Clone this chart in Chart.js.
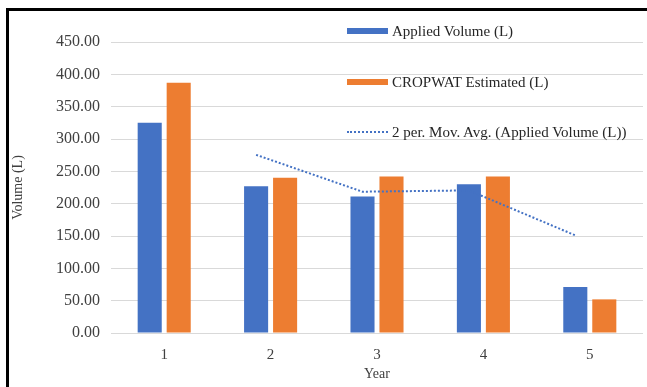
<!DOCTYPE html>
<html>
<head>
<meta charset="utf-8">
<script src="https://cdn.jsdelivr.net/npm/chart.js@4.4.1/dist/chart.umd.min.js"></script>
<style>
  html, body { margin: 0; padding: 0; background: #fff; overflow: hidden; }
  #wrap { position: relative; width: 647px; height: 387px; }
  #frame { position: absolute; left: 6px; top: 8px; width: 700px; height: 500px;
           border-left: 3px solid #000; border-top: 3px solid #000; pointer-events: none; }
  #legend { position: absolute; left: 347px; top: 0; font-family: "Liberation Serif", serif;
            font-size: 15px; color: #262626; }
  .item { position: absolute; left: 0; white-space: nowrap; display: flex; align-items: center; }
  .sw { width: 41px; height: 6px; margin-right: 4px; }
  .dot { width: 41px; height: 0; border-top: 2px dotted #4472C4; margin-right: 4px; }
</style>
</head>
<body>
<div id="wrap">
  <canvas id="c" width="647" height="387"></canvas>
  <div id="frame"></div>
  <div id="legend"></div>
</div>
<script>
// Year categories and measured volumes
const years = ['1', '2', '3', '4', '5'];
const appliedVolume = [325, 227, 211, 230, 71];
const cropwatEstimated = [387, 240, 242, 242, 52];
// two-period moving average trend of the applied volume
const movingAvg = [null, 275.5, 218.5, 220.5, 151];
const seriesNames = ['Applied Volume (L)', 'CROPWAT Estimated (L)', '2 per. Mov. Avg. (Applied Volume (L))'];
const yTicks = [0, 50, 100, 150, 200, 250, 300, 350, 400, 450];

const BLUE = '#4472C4';
const ORANGE = '#ED7D31';
const serif = '"Liberation Serif", "Times New Roman", serif';

// place trend points over the centre of the matching applied-volume bar
const alignTrend = {
  id: 'alignTrend',
  afterDatasetsUpdate(chart) {
    const bars = chart.getDatasetMeta(0).data;
    const pts = chart.getDatasetMeta(2).data;
    pts.forEach((p, i) => { if (bars[i]) p.x = bars[i].x; });
  }
};

new Chart(document.getElementById('c'), {
  data: {
    labels: years,
    datasets: [
      { type: 'bar', label: seriesNames[0], data: appliedVolume, backgroundColor: BLUE,
        barPercentage: 0.83, categoryPercentage: 0.545, order: 1 },
      { type: 'bar', label: seriesNames[1], data: cropwatEstimated, backgroundColor: ORANGE,
        barPercentage: 0.83, categoryPercentage: 0.545, order: 1 },
      { type: 'line', label: seriesNames[2], data: movingAvg, borderColor: BLUE,
        borderWidth: 2, borderDash: [2, 2], pointRadius: 0, fill: false, order: 0 }
    ]
  },
  options: {
    responsive: false,
    animation: false,
    layout: { padding: { top: 42, right: 4, bottom: 0, left: 0 } },
    plugins: { legend: { display: false }, tooltip: { enabled: false } },
    scales: {
      x: {
        grid: { display: false },
        border: { display: false },
        ticks: { color: '#404040', font: { family: serif, size: 15 }, padding: 5 },
        title: { display: true, text: 'Year', color: '#404040',
                 font: { family: serif, size: 14 }, padding: { top: 0, bottom: 4 } },
        afterFit(s) { s.height = 54; }
      },
      y: {
        min: 0, max: 450,
        afterBuildTicks(s) { s.ticks = yTicks.map(v => ({ value: v })); },
        grid: { color: '#D9D9D9', lineWidth: 1, drawTicks: false },
        border: { display: false },
        ticks: { color: '#404040', font: { family: serif, size: 16 }, padding: 11,
                 callback: v => Number(v).toFixed(2) },
        title: { display: true, text: 'Volume (L)', color: '#404040',
                 font: { family: serif, size: 14 }, padding: { top: 10, bottom: 0 } },
        afterFit(s) { s.width = 111; }
      }
    }
  },
  plugins: [alignTrend]
});

// legend entries
const legend = document.getElementById('legend');
const rows = [31, 82, 132];
seriesNames.forEach((name, i) => {
  const item = document.createElement('div');
  item.className = 'item';
  item.style.top = (rows[i] - 9) + 'px';
  item.style.height = '18px';
  const sw = document.createElement('span');
  if (i < 2) { sw.className = 'sw'; sw.style.background = i === 0 ? BLUE : ORANGE; }
  else { sw.className = 'dot'; }
  const tx = document.createElement('span');
  tx.textContent = name;
  item.appendChild(sw);
  item.appendChild(tx);
  legend.appendChild(item);
});
</script>
</body>
</html>
